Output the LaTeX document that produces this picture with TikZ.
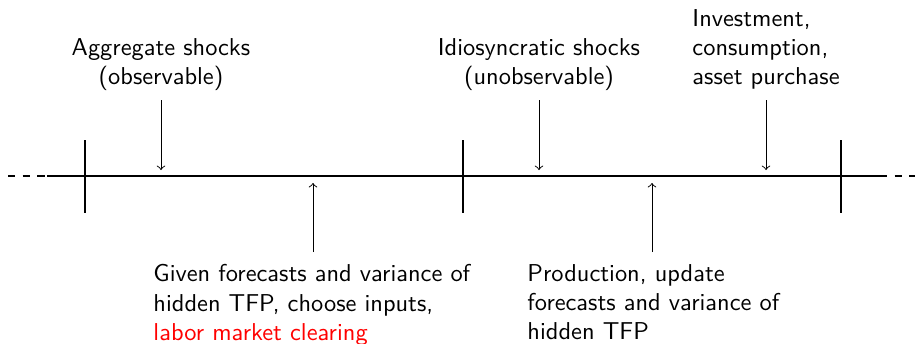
\documentclass[tikz,border=0pt]{standalone}
\begin{document}
\begin{tikzpicture}[x=0.4098pt, y=-0.4098pt, font=\sffamily,
  axis/.style={line width=1.2pt},
  tickmark/.style={line width=1.2pt},
  evarrow/.style={->, line width=0.4pt},
  lbl/.style={inner sep=0pt, align=center},
  lbll/.style={inner sep=0pt, align=left}]
\useasboundingbox (0,0) rectangle (915,343);
% time line
\coordinate (L0) at (8,176);
\coordinate (L1) at (47,176);
\coordinate (R1) at (880,176);
\coordinate (R0) at (915,176);
\draw[axis,dashed] (L0) -- (L1);
\draw[axis] (L1) -- (R1);
\draw[axis,dashed] (R1) -- (R0);
% ticks
\coordinate (T1a) at (85,140);  \coordinate (T1b) at (85,213);
\coordinate (T2a) at (463,140); \coordinate (T2b) at (463,213);
\coordinate (T3a) at (841,140); \coordinate (T3b) at (841,213);
\draw[tickmark] (T1a) -- (T1b);
\draw[tickmark] (T2a) -- (T2b);
\draw[tickmark] (T3a) -- (T3b);
% labels
\node[lbl, anchor=north] (agg) at (161,38) {Aggregate shocks\\(observable)};
\node[lbl, anchor=north] (idio) at (539,38) {Idiosyncratic shocks\\(unobservable)};
\node[lbll, anchor=north west] (inv) at (692,9) {Investment,\\consumption,\\asset purchase};
\node[lbll, anchor=north west] (given) at (153,264) {Given forecasts and variance of\\hidden TFP, choose inputs,\\\textcolor{red}{labor market clearing}};
\node[lbll, anchor=north west] (prod) at (527,264) {Production, update\\forecasts and variance of\\hidden TFP};
% arrows
\coordinate (A1s) at (161,100); \coordinate (A1e) at (161,170);
\coordinate (A2s) at (539,100); \coordinate (A2e) at (539,170);
\coordinate (A3s) at (766,100); \coordinate (A3e) at (766,170);
\coordinate (B1s) at (313,252); \coordinate (B1e) at (313,183);
\coordinate (B2s) at (652,252); \coordinate (B2e) at (652,183);
\draw[evarrow] (A1s) -- (A1e);
\draw[evarrow] (A2s) -- (A2e);
\draw[evarrow] (A3s) -- (A3e);
\draw[evarrow] (B1s) -- (B1e);
\draw[evarrow] (B2s) -- (B2e);
\end{tikzpicture}
\end{document}
